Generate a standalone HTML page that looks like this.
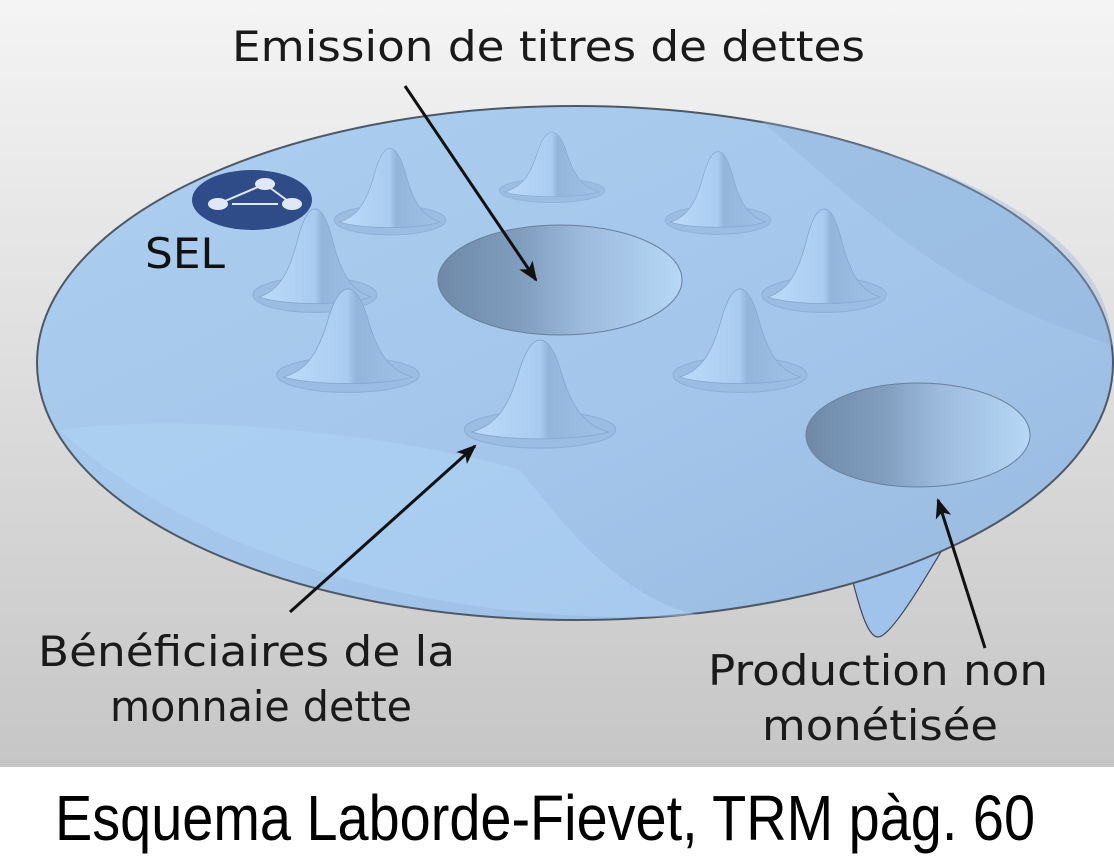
<!DOCTYPE html>
<html><head><meta charset="utf-8"><style>html,body{margin:0;padding:0;background:#fff}svg{display:block}</style></head>
<body>
<svg width="1114" height="864" viewBox="0 0 1114 864" xmlns="http://www.w3.org/2000/svg">
<defs>
<linearGradient id="bg" x1="0" y1="0" x2="0" y2="1"><stop offset="0" stop-color="#f4f4f4"/><stop offset="1" stop-color="#c6c6c6"/></linearGradient>
<linearGradient id="disc" x1="0" y1="0" x2="1" y2="1"><stop offset="0" stop-color="#acceef"/><stop offset="0.6" stop-color="#a3c5ea"/><stop offset="1" stop-color="#98b9de"/></linearGradient>
<linearGradient id="cone" x1="0" y1="0" x2="1" y2="0"><stop offset="0" stop-color="#bcdcf9"/><stop offset="0.5" stop-color="#a9cbef"/><stop offset="0.56" stop-color="#94b5da"/><stop offset="1" stop-color="#a0c2e6"/></linearGradient>
<linearGradient id="hole" x1="0" y1="0" x2="1" y2="0"><stop offset="0" stop-color="#6f89a8"/><stop offset="0.35" stop-color="#819ebf"/><stop offset="0.6" stop-color="#9cbbdd"/><stop offset="1" stop-color="#b6d7f6"/></linearGradient>
<marker id="ah" markerWidth="20" markerHeight="16" refX="18" refY="8" orient="auto" markerUnits="userSpaceOnUse" viewBox="0 0 20 16"><path d="M0,0 L20,8 L0,16 L5,8 Z" fill="#111"/></marker>
<g id="c"><ellipse cx="0" cy="-2" rx="62" ry="16" fill="#9bbde2" stroke="#8eb0d6" stroke-width="1"/><path d="M-56,0 C-36,-6 -26,-22 -18,-50 C-12,-72 -6,-80 0,-80 C6,-80 12,-72 18,-50 C26,-22 36,-6 56,0 C30,8 -30,8 -56,0 Z" fill="url(#cone)" stroke="#88a9cf" stroke-width="0.8"/></g>
</defs>
<rect x="0" y="0" width="1114" height="767" fill="url(#bg)"/>
<path d="M852,578 C860,610 868,637 878,637 C892,637 930,570 948,540 Z" fill="#9fc3ea" stroke="#445" stroke-width="1.2"/>
<ellipse cx="575" cy="363" rx="538" ry="257" fill="url(#disc)" stroke="#4d5866" stroke-width="2"/>
<path d="M60,430 C200,410 420,440 520,470 C560,520 620,600 700,615 C450,630 200,560 60,430 Z" fill="#b2d6f8" opacity="0.45"/>
<path d="M760,120 C820,170 900,250 1000,300 C1060,330 1100,340 1112,345 C1110,250 1000,170 760,120 Z" fill="#8fb2d8" opacity="0.35"/>
<ellipse cx="252" cy="200" rx="60" ry="30" fill="#2f4b88"/>
<g stroke="#dfe8f4" stroke-width="2" fill="#dfe8f4"><line x1="218" y1="204" x2="265" y2="184"/><line x1="265" y1="184" x2="292" y2="204"/><line x1="232" y1="204" x2="278" y2="204"/><ellipse cx="218" cy="204" rx="9" ry="5"/><ellipse cx="265" cy="184" rx="9" ry="5"/><ellipse cx="292" cy="204" rx="9" ry="5"/></g>
<text x="145" y="268" font-family="DejaVu Sans, sans-serif" font-size="42" fill="#111" textLength="80" lengthAdjust="spacingAndGlyphs">SEL</text>
<use href="#c" transform="translate(390,222) scale(0.9,0.92)"/>
<use href="#c" transform="translate(552,192) scale(0.85,0.75)"/>
<use href="#c" transform="translate(718,222) scale(0.85,0.88)"/>
<use href="#c" transform="translate(315,297) scale(1.0,1.1)"/>
<use href="#c" transform="translate(824,297) scale(1.0,1.1)"/>
<use href="#c" transform="translate(348,377) scale(1.15,1.1)"/>
<use href="#c" transform="translate(740,377) scale(1.08,1.1)"/>
<use href="#c" transform="translate(540,432) scale(1.22,1.15)"/>
<ellipse cx="560" cy="280" rx="122" ry="55" fill="url(#hole)" stroke="#6a7f98" stroke-width="1"/>
<ellipse cx="918" cy="435" rx="112" ry="52" fill="url(#hole)" stroke="#6a7f98" stroke-width="1"/>
<g stroke="#111" stroke-width="3" fill="none" marker-end="url(#ah)">
<line x1="405" y1="86" x2="536" y2="280"/>
<line x1="290" y1="612" x2="475" y2="446"/>
<line x1="985" y1="648" x2="938" y2="500"/>
</g>
<g font-family="DejaVu Sans, sans-serif" font-size="42" fill="#1a1a1a">
<text x="232" y="61" textLength="633" lengthAdjust="spacingAndGlyphs">Emission de titres de dettes</text>
<text x="38" y="666" textLength="417" lengthAdjust="spacingAndGlyphs">Bénéficiaires de la</text>
<text x="110" y="721" textLength="302" lengthAdjust="spacingAndGlyphs">monnaie dette</text>
<text x="708" y="685" textLength="340" lengthAdjust="spacingAndGlyphs">Production non</text>
<text x="762" y="740" textLength="236" lengthAdjust="spacingAndGlyphs">monétisée</text>
</g>
<text x="55" y="840" font-family="Liberation Sans, sans-serif" font-size="64" fill="#000" textLength="980" lengthAdjust="spacingAndGlyphs">Esquema Laborde-Fievet, TRM pàg. 60</text>
</svg>
</body></html>
